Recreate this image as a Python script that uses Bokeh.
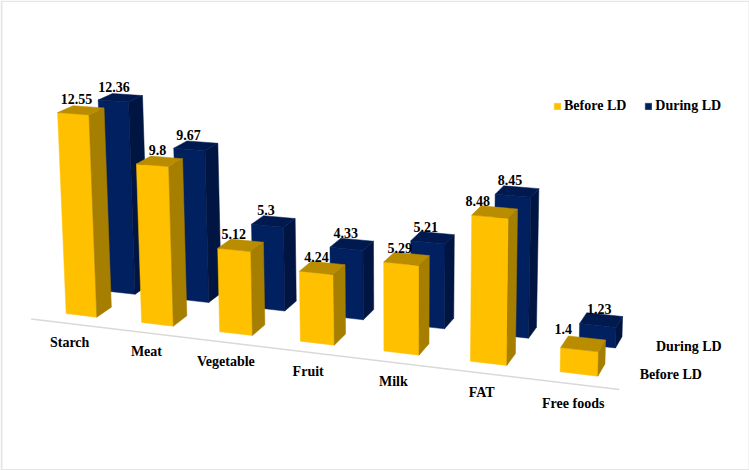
from bokeh.plotting import figure
from bokeh.models import Range1d, Legend, LegendItem
from bokeh.core.properties import value
from bokeh.embed import file_html
from bokeh.resources import INLINE

categories = ["Starch", "Meat", "Vegetable", "Fruit", "Milk", "FAT", "Free foods"]
before_ld = [12.55, 9.8, 5.12, 4.24, 5.29, 8.48, 1.4]
during_ld = [12.36, 9.67, 5.3, 4.33, 5.21, 8.45, 1.23]
series_names = ["Before LD", "During LD"]

YELLOW = ("#FFC000", "#A67E00", "#BA8C00")
NAVY = ("#002060", "#001541", "#001A50")
FONT = value("Liberation Serif")
BAR_W = 0.41
BLUE_DEPTH = 2.38


def yellow_shift(i):
    return 0.0


def blue_shift(i):
    return 0.06 - 0.008 * i


def proj(X, Y, Z):
    """Perspective camera: category, depth, value -> page pixel."""
    w = 1 - 0.0165 * X + 0.0165 * Y - 0.002 * Z
    return ((96.3 + 73.65 * X + 16.4 * Y - 0.8 * Z) / w,
            (316.7 + 3.63 * X - 5.0 * Y - 16.35 * Z) / w)


def faces(vals, shift, y0):
    front, side, top = ([], []), ([], []), ([], [])
    for i, v in enumerate(vals):
        r = i + shift(i)
        l = r - BAR_W
        polys = (
            (front, [(l, y0, 0), (r, y0, 0), (r, y0, v), (l, y0, v)]),
            (side, [(r, y0, 0), (r, y0 + 1, 0), (r, y0 + 1, v), (r, y0, v)]),
            (top, [(l, y0, v), (r, y0, v), (r, y0 + 1, v), (l, y0 + 1, v)]),
        )
        for store, pts in polys:
            xy = [proj(*q) for q in pts]
            store[0].append([a for a, _ in xy])
            store[1].append([b for _, b in xy])
    return front, side, top


p = figure(width=749, height=470, output_backend="svg", toolbar_location=None,
           x_range=Range1d(0, 749), y_range=Range1d(470, 0),
           min_border=0, outline_line_color=None, background_fill_color="white")
p.xaxis.visible = False
p.yaxis.visible = False
p.grid.visible = False

# picture frame
p.line([1, 1], [0, 470], line_color="#E6E6E6", line_width=2)
p.line([0, 749], [0.7, 0.7], line_color="#E6E6E6", line_width=1.4)
p.line([748.5, 748.5], [0, 470], line_color="#E6E6E6", line_width=1)
p.line([0, 749], [469.3, 469.3], line_color="#E6E6E6", line_width=1.4)

# floor line
a = proj(-0.713, -0.8, 0)
b = proj(6.29, -0.8, 0)
p.line([a[0], b[0]], [a[1], b[1]], line_color="#D9D9D9", line_width=1.5)

items = []
for vals, shift, y0, cols, name in ((during_ld, blue_shift, BLUE_DEPTH, NAVY, series_names[1]),
                                    (before_ld, yellow_shift, 0.0, YELLOW, series_names[0])):
    fr, si, to = faces(vals, shift, y0)
    g = p.patches(fr[0], fr[1], fill_color=cols[0], line_color=cols[0], line_width=0.5)
    p.patches(si[0], si[1], fill_color=cols[1], line_color=cols[1], line_width=0.5)
    p.patches(to[0], to[1], fill_color=cols[2], line_color=cols[2], line_width=0.5)
    items.append(LegendItem(label=name, renderers=[g]))

items.reverse()
legend = Legend(items=items, orientation="horizontal", location=(553, 356),
                padding=0, margin=0, spacing=18, glyph_width=8, glyph_height=8,
                label_standoff=3, background_fill_alpha=0, border_line_color=None,
                label_text_font="Liberation Serif", label_text_font_style="bold",
                label_text_font_size="14px", label_text_color="#000000")
p.add_layout(legend, "center")

# data labels
nudge_before = [(-4.5, -11), (-2, -11), (-7, -11), (-6, -11), (-7, -11), (-17, -11), (-20, -15)]
nudge_during = [(-6.5, -11), (-7.5, -11), (-7.5, -11), (-6, -11), (-7, -11), (-7, -11), (-2, -11)]
lx, ly, lt = [], [], []
for vals, shift, y0, nudges in ((before_ld, yellow_shift, 0.0, nudge_before),
                                (during_ld, blue_shift, BLUE_DEPTH, nudge_during)):
    for i, v in enumerate(vals):
        x, y = proj(i + shift(i) - BAR_W / 2, y0 + 0.5, v)
        lx.append(x + nudges[i][0])
        ly.append(y + nudges[i][1])
        lt.append(str(v))
p.text(lx, ly, text=lt, text_font=FONT, text_font_style="bold", text_font_size="14px",
       text_align="center", text_baseline="middle", text_color="#000000")

# category labels
cx, cy = [], []
for i in range(len(categories)):
    x, y = proj(i - 0.2, -0.8, 0)
    cx.append(x)
    cy.append(y + 19)
p.text(cx, cy, text=categories, text_font=FONT, text_font_style="bold", text_font_size="14px",
       text_align="center", text_baseline="middle", text_color="#000000")

# depth-axis labels
p.text([688.3, 670.3], [345.7, 373.7], text=[series_names[1], series_names[0]], text_font=FONT,
       text_font_style="bold", text_font_size="14px", text_align="center",
       text_baseline="middle", text_color="#000000")

open("out.html", "w").write(file_html(p, INLINE))
